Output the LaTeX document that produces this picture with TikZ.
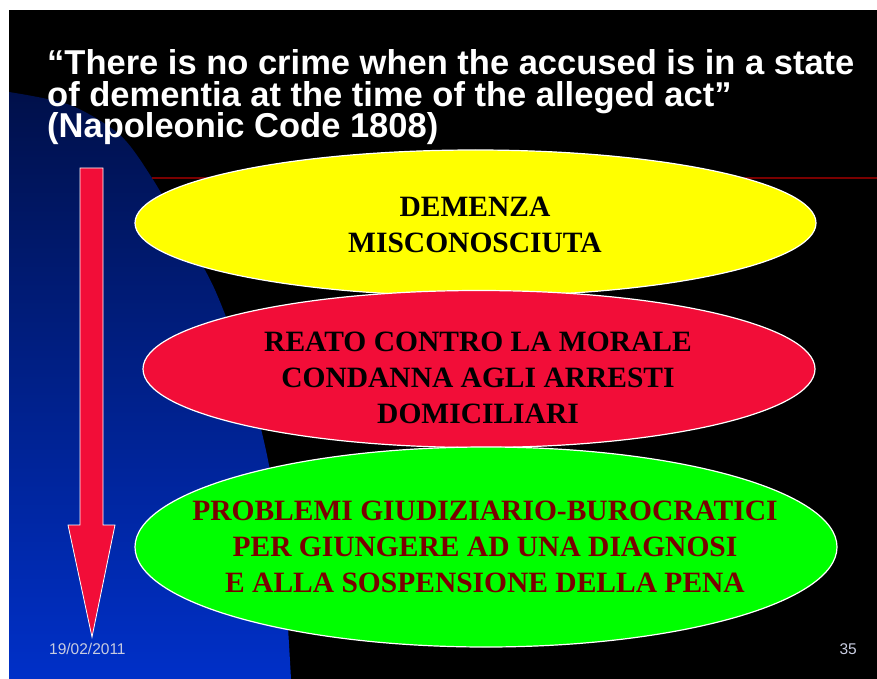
\documentclass[tikz,border=0pt]{standalone}
\usepackage{fontspec}
\setmainfont{Liberation Serif}
\newfontfamily\arialfont{Liberation Sans}
\usetikzlibrary{shapes.geometric}

\definecolor{slidered}{HTML}{F20D38}
\definecolor{ovalyellow}{HTML}{FFFF00}
\definecolor{ovalgreen}{HTML}{00FF00}
\definecolor{darkmaroon}{HTML}{7A0000}
\definecolor{navytop}{HTML}{00104A}
\definecolor{bluebottom}{HTML}{0030C8}
\definecolor{footgray}{HTML}{C8CCE0}

\begin{document}
\begin{tikzpicture}[x=1pt, y=-1pt,
        oval/.style={ellipse, draw=white, line width=1.2pt, inner sep=0pt},
        ovaltext/.style={align=center, anchor=base,
          font=\fontsize{29.5}{36}\selectfont\bfseries},
        title/.style={anchor=base west, text=white, inner sep=0pt,
          font=\arialfont\bfseries\fontsize{34.5}{31.5}\selectfont},
        footer/.style={text=footgray, inner sep=0pt,
          font=\arialfont\fontsize{15.5}{18}\selectfont}
      ]
      \useasboundingbox (0,0) rectangle (877,679);
      \fill[white] (0,0) rectangle (877,679);
      \fill[black] (9,10) rectangle (877,679);

      % blue background swoosh
      \shade[top color=navytop, bottom color=bluebottom]
      plot[smooth] coordinates {(9,92) (70,105) (120,135) (152,178)
        (185,235) (215,290) (245,370) (268,460) (283,560) (291,679)}
      -- (9,679) -- cycle;

      \draw[darkmaroon, line width=1.5pt] (152,178) -- (877,178);

      \node[title] (quote_a) at (47,75) {“There is no crime when the accused
      is in a state};
      \node[title] (quote_b) at (47,107) {of dementia at the time of the
      alleged act”};
      \node[title] (quote_c) at (47,138) {(Napoleonic Code 1808)};

      % down arrow
      \draw[fill=slidered, draw=white, line width=0.8pt]
      (80,168) -- (103,168) -- (103,525) -- (115,525) -- (92,637)
      -- (68,525) -- (80,525) -- cycle;

      \node[oval, fill=ovalyellow, minimum width=681pt, minimum
      height=146pt] (yellow_oval) at (475.5,223) {};
      \node[oval, fill=slidered, minimum width=672pt, minimum
      height=157pt] (red_oval) at (479,369) {};
      \node[oval, fill=ovalgreen, minimum width=702pt, minimum
      height=200pt] (green_oval) at (486,547) {};

      \node[ovaltext, text=black] (yellow_text) at (475,252)
      {DEMENZA\\MISCONOSCIUTA};
      \node[ovaltext, text=black] (red_text) at (478,423)
      {REATO CONTRO LA MORALE\\CONDANNA AGLI ARRESTI\\DOMICILIARI};
      \node[ovaltext, text=darkmaroon] (green_text) at (485,592)
      {PROBLEMI GIUDIZIARIO-BUROCRATICI\\PER GIUNGERE AD UNA
      DIAGNOSI\\E ALLA SOSPENSIONE DELLA PENA};

      \node[footer, anchor=base west] (date) at (49,654) {19/02/2011};
      \node[footer, anchor=base east] (page_num) at (857,654) {35};

    \end{tikzpicture}
\end{document}
